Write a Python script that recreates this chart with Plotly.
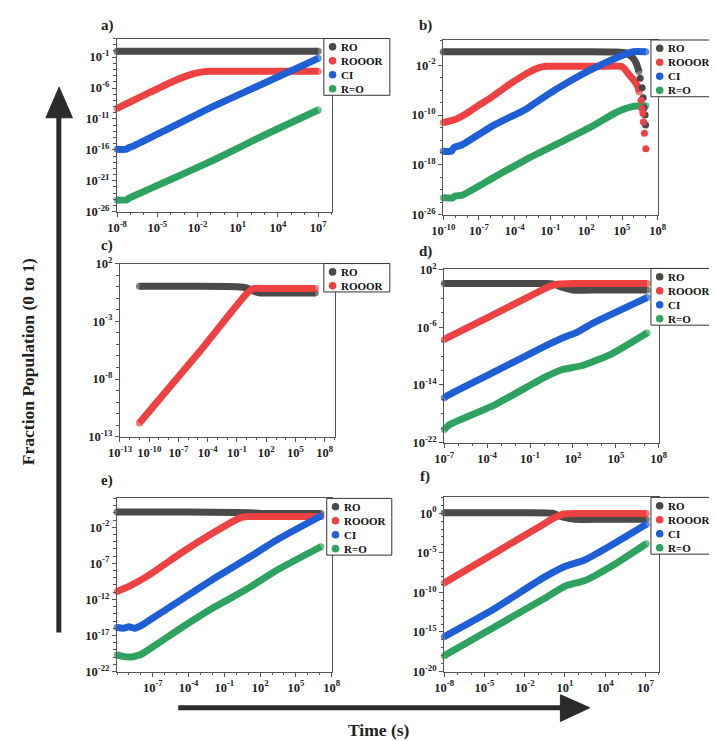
import plotly.graph_objects as go

W, H = 717, 741
FONT = "Liberation Serif"

SERIES_NAMES = ["RO", "ROOOR", "CI", "R=O"]
SERIES_COLORS = ["#4a4a4a", "#ee4242", "#1e5fd6", "#2ea35f"]

# All values below are log10(time / s) and log10(fraction population)

# ---- panel a ----
a_ro_t = [-8, -4, 0, 4, 7]
a_ro_y = [-0.05, -0.05, -0.05, -0.05, -0.05]
a_rooor_t = [-8, -5.6, -4, -3, -2.2, -1.5, -1, 0, 7]
a_rooor_y = [-9.3, -6.75, -5.1, -4.2, -3.65, -3.35, -3.3, -3.3, -3.3]
a_ci_t = [-8, -7.3, -7.1, -6.8, -4, -0.75, 3, 7]
a_ci_y = [-15.9, -15.9, -15.6, -15.4, -12.4, -8.9, -5.2, -1.2]
a_req_t = [-8, -7.3, -7.1, -6.8, -4, -0.75, 3, 7]
a_req_y = [-24.1, -24.1, -23.8, -23.5, -20.8, -17.6, -13.6, -9.55]

# ---- panel b ----
b_ro_t = [-10, -4, 2, 4.5, 5.3, 5.8, 6.1, 6.29, 6.42]
b_ro_y = [0.19, 0.19, 0.19, 0.15, 0.0, -0.6, -1.3, -2.17, -3.0]
b_ro_tail_t = [6.53, 6.69, 6.78, 6.86, 6.94, 6.98]
b_ro_tail_y = [-4.06, -5.6, -7.2, -8.8, -10.0, -11.6]
b_rooor_t = [-10, -9, -8, -7, -6, -5, -4, -3, -2, -1.4, 0, 3, 5, 5.64, 6.1, 6.34, 6.45]
b_rooor_y = [-11.2, -10.7, -9.7, -8.4, -7.2, -5.8, -4.5, -3.3, -2.4, -2.15, -2.15, -2.15, -2.2, -3.6, -4.7, -5.5, -6.3]
b_rooor_tail_t = [6.6, 6.67, 6.75, 6.8, 6.88, 7.0]
b_rooor_tail_y = [-7.6, -8.94, -9.7, -11.1, -12.9, -15.4]
b_ci_t = [-10, -9.3, -9.1, -8.45, -5.74, -3.02, -1.39, -0.31, 2.4, 5.12, 5.94, 7.0]
b_ci_y = [-15.8, -15.8, -15.2, -14.8, -11.6, -9.0, -6.9, -5.6, -2.7, -0.33, 0.19, 0.19]
b_req_t = [-10, -9.2, -9.0, -8.45, -5.74, -3.02, -0.31, 2.4, 4.58, 5.94, 7.0]
b_req_y = [-23.3, -23.3, -23.0, -22.9, -20.0, -17.1, -14.5, -11.9, -9.5, -8.6, -8.5]

# ---- panel c ----
c_ro_t = [-11, -5, -1, 0, 0.6, 1.27, 4, 7.03]
c_ro_y = [0.03, 0.03, 0.0, -0.1, -0.35, -0.53, -0.55, -0.55]
c_rooor_t = [-11, -5, 0, 0.7, 2, 7.03]
c_rooor_y = [-11.8, -5.8, -0.6, -0.16, -0.16, -0.16]

# ---- panel d ----
d_ro_t = [-7, 0, 0.6, 1.3, 1.97, 4, 7.18]
d_ro_y = [0.05, 0.05, 0.0, -0.5, -0.85, -0.85, -0.85]
d_rooor_t = [-7, -4, -1, 0.3, 0.9, 2, 7.18]
d_rooor_y = [-7.7, -4.7, -1.7, -0.4, -0.05, 0.05, 0.05]
d_ci_t = [-7, -6.8, -3.5, 0.08, 1.52, 2.2, 3.34, 7.18]
d_ci_y = [-15.8, -15.5, -12.2, -8.6, -7.3, -6.8, -5.5, -1.9]
d_req_t = [-7, -6.7, -3.5, 0.08, 1.22, 2.59, 4.65, 7.18]
d_req_y = [-20.2, -19.6, -16.8, -12.9, -11.9, -11.35, -9.76, -6.8]

# ---- panel e ----
e_ro_t = [-10, -4, 0, 2, 7.1]
e_ro_y = [0.1, 0.1, 0.05, -0.05, -0.08]
e_rooor_t = [-10, -9, -7.29, -4.57, -1.86, 0.32, 1.0, 1.4, 7.1]
e_rooor_y = [-10.9, -10.2, -8.6, -5.5, -2.7, -0.7, -0.52, -0.5, -0.5]
e_ci_t = [-10, -9.5, -9, -8.5, -7.96, -7.29, -4.57, -1.86, 0.86, 3.57, 7.1]
e_ci_y = [-15.9, -16.0, -15.8, -16.0, -15.6, -14.9, -12.0, -9.1, -6.4, -3.6, -0.44]
e_req_t = [-10, -9.5, -8.78, -8.3, -7.96, -7.29, -4.57, -1.86, 0.86, 3.57, 7.1]
e_req_y = [-19.7, -19.9, -19.97, -19.8, -19.6, -18.9, -15.9, -13.1, -10.6, -7.8, -4.7]

# ---- panel f ----
f_ro_t = [-8, -2, 0.07, 0.8, 1.76, 4, 7.07]
f_ro_y = [0.06, 0.06, 0.0, -0.45, -0.76, -0.76, -0.76]
f_rooor_t = [-8, -4, -1, 0.3, 0.9, 2, 7.07]
f_rooor_y = [-8.8, -4.8, -1.8, -0.5, -0.1, -0.04, -0.04]
f_ci_t = [-8, -4.28, -0.66, 1.04, 2.49, 4.66, 7.07]
f_ci_y = [-15.6, -12.1, -8.2, -6.7, -5.9, -3.85, -1.4]
f_req_t = [-8, -4.28, -0.66, 1.04, 2.49, 4.66, 7.07]
f_req_y = [-18.0, -14.4, -10.9, -9.2, -8.5, -6.5, -3.85]

# tick exponents per panel
a_xticks = [-8, -5, -2, 1, 4, 7];        a_yticks = [-26, -21, -16, -11, -6, -1]
b_xticks = [-10, -7, -4, -1, 2, 5, 8];   b_yticks = [-26, -18, -10, -2]
c_xticks = [-13, -10, -7, -4, -1, 2, 5, 8]; c_yticks = [-13, -8, -3, 2]
d_xticks = [-7, -4, -1, 2, 5, 8];        d_yticks = [-22, -14, -6, 2]
e_xticks = [-7, -4, -1, 2, 5, 8];        e_yticks = [-22, -17, -12, -7, -2]
f_xticks = [-8, -5, -2, 1, 4, 7];        f_yticks = [-20, -15, -10, -5, 0]

panel_labels = ["a)", "b)", "c)", "d)", "e)", "f)"]
x_title = "Time (s)"
y_title = "Fraction Population (0 to 1)"

# ------------------------------------------------------------------
def px_x(x):
    return x / W

def px_y(y):
    return 1 - y / H

panels = [
    dict(box=(100, 22, 321, 199), xr=[-8, 8], yr=[-26, 2], xt=a_xticks, yt=a_yticks, xm=1, ym=1,
         series=[(a_ro_t, a_ro_y), (a_rooor_t, a_rooor_y), (a_ci_t, a_ci_y), (a_req_t, a_req_y)],
         tails=[], leg=(313, 22, 381), lab=(90, 9)),
    dict(box=(436, 24, 657, 202), xr=[-10, 8], yr=[-26, 2], xt=b_xticks, yt=b_yticks, xm=1, ym=2,
         series=[(b_ro_t, b_ro_y), (b_rooor_t, b_rooor_y), (b_ci_t, b_ci_y), (b_req_t, b_req_y)],
         tails=[(0, b_ro_tail_t, b_ro_tail_y), (1, b_rooor_tail_t, b_rooor_tail_y)],
         leg=(650, 23.5, 716), lab=(418, 9)),
    dict(box=(103, 252, 324, 429), xr=[-13, 9], yr=[-13, 2], xt=c_xticks, yt=c_yticks, xm=1, ym=1,
         series=[(c_ro_t, c_ro_y), (c_rooor_t, c_rooor_y)],
         tails=[], leg=(313, 252, 381), lab=(90, 234)),
    dict(box=(437, 258, 658, 435), xr=[-7, 8], yr=[-22, 2], xt=d_xticks, yt=d_yticks, xm=1, ym=2,
         series=[(d_ro_t, d_ro_y), (d_rooor_t, d_rooor_y), (d_ci_t, d_ci_y), (d_req_t, d_req_y)],
         tails=[], leg=(650, 257, 716), lab=(418, 240)),
    dict(box=(100, 492, 321, 669), xr=[-10, 8], yr=[-22, 2], xt=e_xticks, yt=e_yticks, xm=1, ym=1,
         series=[(e_ro_t, e_ro_y), (e_rooor_t, e_rooor_y), (e_ci_t, e_ci_y), (e_req_t, e_req_y)],
         tails=[], leg=(316, 492, 383), lab=(90, 474)),
    dict(box=(437, 491, 658, 669), xr=[-8, 8], yr=[-20, 2], xt=f_xticks, yt=f_yticks, xm=1, ym=1,
         series=[(f_ro_t, f_ro_y), (f_rooor_t, f_rooor_y), (f_ci_t, f_ci_y), (f_req_t, f_req_y)],
         tails=[], leg=(650, 491, 716), lab=(417, 470)),
]

fig = go.Figure()
layout = dict(width=W, height=H, margin=dict(l=0, r=0, t=0, b=0),
              paper_bgcolor="white", plot_bgcolor="white", showlegend=False,
              font=dict(family=FONT, size=12, color="#222"))
shapes = []
annotations = []

AX_COLOR = "#555"
LW = 7

for i, p in enumerate(panels):
    n = "" if i == 0 else str(i + 1)
    xa, ya = "x" + n, "y" + n
    x0, y0, x1, y1 = p["box"]
    lo, hi = p["xr"]
    ylo, yhi = p["yr"]
    common = dict(type="log", showgrid=False, zeroline=False, showline=True, linecolor=AX_COLOR,
                  linewidth=1.3, mirror=True, ticks="outside", ticklen=4, tickwidth=1.2,
                  tickcolor=AX_COLOR, tickmode="array",
                  tickfont=dict(family=FONT, size=12.5, color="#222", weight="bold"))
    layout["xaxis" + n] = dict(common, domain=[px_x(x0), px_x(x1)], range=[lo, hi],
                               anchor=ya,
                               tickvals=[10.0 ** e for e in p["xt"]],
                               ticktext=["10<sup>%d</sup>" % e for e in p["xt"]],
                               minor=dict(ticks="outside", ticklen=2.5, tickwidth=1, tickcolor=AX_COLOR,
                                          tickvals=[10.0 ** k for k in range(lo, hi + 1, p["xm"])]))
    layout["yaxis" + n] = dict(common, domain=[px_y(y1), px_y(y0)], range=[ylo, yhi],
                               anchor=xa,
                               tickvals=[10.0 ** e for e in p["yt"]],
                               ticktext=["10<sup>%d</sup>" % e for e in p["yt"]],
                               minor=dict(ticks="outside", ticklen=2.5, tickwidth=1, tickcolor=AX_COLOR,
                                          tickvals=[10.0 ** k for k in range(ylo, yhi + 1, p["ym"])]))
    for si, (t, y) in enumerate(p["series"]):
        sizes = [LW] + [0] * (len(t) - 2) + [LW]
        fig.add_trace(go.Scatter(
            x=[10.0 ** v for v in t], y=[10.0 ** v for v in y],
            mode="lines+markers", name=SERIES_NAMES[si],
            line=dict(color=SERIES_COLORS[si], width=LW, shape="spline", smoothing=0.5),
            marker=dict(color=SERIES_COLORS[si], size=sizes, line=dict(width=0)),
            xaxis=xa, yaxis=ya, showlegend=False, cliponaxis=False))
    for si, t, y in p["tails"]:
        fig.add_trace(go.Scatter(
            x=[10.0 ** v for v in t], y=[10.0 ** v for v in y],
            mode="markers", name=SERIES_NAMES[si],
            marker=dict(color=SERIES_COLORS[si], size=LW, line=dict(width=0)),
            xaxis=xa, yaxis=ya, showlegend=False, cliponaxis=False))

    # manual legend box
    L, T, R = p["leg"]
    nitems = len(p["series"])
    B = T + 58 if nitems == 4 else T + 29
    shapes.append(dict(type="rect", xref="paper", yref="paper", x0=px_x(L), x1=px_x(R),
                       y0=px_y(B), y1=px_y(T), line=dict(color="#333", width=1),
                       fillcolor="white", layer="above"))
    for si in range(nitems):
        cy = T + 8.5 + 14.3 * si
        shapes.append(dict(type="circle", xref="paper", yref="paper",
                           xsizemode="pixel", ysizemode="pixel",
                           xanchor=px_x(L + 9), yanchor=px_y(cy),
                           x0=-3.8, x1=3.8, y0=-3.8, y1=3.8,
                           fillcolor=SERIES_COLORS[si], line=dict(width=0), layer="above"))
        annotations.append(dict(xref="paper", yref="paper", x=px_x(L + 17), y=px_y(cy),
                                xanchor="left", yanchor="middle", showarrow=False,
                                text=SERIES_NAMES[si], borderpad=0,
                                font=dict(family=FONT, size=11, color="#111", weight="bold")))
    lx, ly = p["lab"]
    annotations.append(dict(xref="paper", yref="paper", x=px_x(lx), y=px_y(ly),
                            xanchor="center", yanchor="middle", showarrow=False,
                            text=panel_labels[i],
                            font=dict(family=FONT, size=15, color="#222", weight="bold")))

# big arrows
ARROW = "#2b2b2b"
shapes.append(dict(type="line", xref="paper", yref="paper", x0=px_x(40), x1=px_x(40),
                   y0=px_y(629), y1=px_y(100), line=dict(color=ARROW, width=5)))
shapes.append(dict(type="path", xref="paper", yref="paper",
                   path="M %f %f L %f %f L %f %f Z" % (px_x(26.7), px_y(103), px_x(54), px_y(103),
                                                       px_x(40.3), px_y(71.7)),
                   fillcolor=ARROW, line=dict(color=ARROW, width=1)))
shapes.append(dict(type="line", xref="paper", yref="paper", x0=px_x(163), x1=px_x(560),
                   y0=px_y(706), y1=px_y(706), line=dict(color=ARROW, width=5)))
shapes.append(dict(type="path", xref="paper", yref="paper",
                   path="M %f %f L %f %f L %f %f Z" % (px_x(556.7), px_y(692.7), px_x(556.7), px_y(720),
                                                       px_x(587), px_y(706)),
                   fillcolor=ARROW, line=dict(color=ARROW, width=1)))

annotations.append(dict(xref="paper", yref="paper", x=px_x(370), y=px_y(729),
                        xanchor="center", yanchor="middle", showarrow=False, text=x_title,
                        font=dict(family=FONT, size=17.5, color="#222", weight="bold")))
annotations.append(dict(xref="paper", yref="paper", x=px_x(9), y=px_y(352),
                        xanchor="center", yanchor="middle", showarrow=False, text=y_title,
                        textangle=-90,
                        font=dict(family=FONT, size=17.5, color="#222", weight="bold")))

layout["shapes"] = shapes
layout["annotations"] = annotations
fig.update_layout(**layout)
fig.write_html("out.html")
